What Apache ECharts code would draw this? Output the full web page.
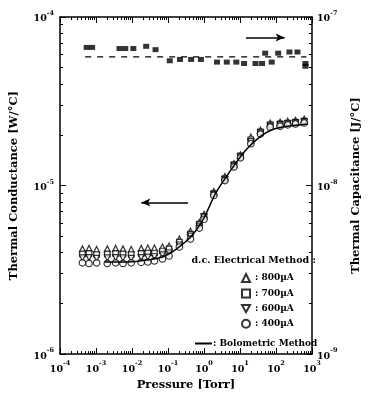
<!DOCTYPE html>
<html><head><meta charset="utf-8">
<script src="https://cdn.jsdelivr.net/npm/echarts@6/dist/echarts.min.js"></script>
<style>html,body{margin:0;padding:0;background:#fff}#c{width:370px;height:396px}</style>
</head><body><div id="c"></div>
<script>
// ---- data ----
const pressure = [4.2e-4, 6.4e-4, 1.04e-3, 2.06e-3, 3.5e-3, 5.6e-3, 9.5e-3, 0.018, 0.0275, 0.042, 0.070, 0.107, 0.207, 0.42, 0.74, 1.0, 1.87, 3.8, 6.8, 10.3, 20, 37, 69, 130, 212, 348, 607];
const g800 = [4.21e-6,4.24e-6,4.18e-6,4.21e-6,4.24e-6,4.21e-6,4.18e-6,4.24e-6,4.26e-6,4.26e-6,4.32e-6,4.38e-6,4.81e-6,5.36e-6,6.05e-6,6.75e-6,9.22e-6,1.13e-5,1.35e-5,1.52e-5,1.94e-5,2.13e-5,2.35e-5,2.38e-5,2.41e-5,2.44e-5,2.48e-5];
const g700 = [3.93e-6,3.96e-6,3.90e-6,3.93e-6,3.96e-6,3.93e-6,3.90e-6,3.96e-6,3.98e-6,3.98e-6,4.09e-6,4.21e-6,4.62e-6,5.15e-6,5.90e-6,6.57e-6,8.97e-6,1.10e-5,1.33e-5,1.50e-5,1.87e-5,2.08e-5,2.29e-5,2.32e-5,2.35e-5,2.38e-5,2.41e-5];
const g600 = [3.72e-6,3.74e-6,3.70e-6,3.72e-6,3.74e-6,3.72e-6,3.70e-6,3.74e-6,3.76e-6,3.78e-6,3.88e-6,3.98e-6,4.44e-6,5.01e-6,5.74e-6,6.49e-6,8.86e-6,1.08e-5,1.31e-5,1.48e-5,1.82e-5,2.05e-5,2.25e-5,2.29e-5,2.32e-5,2.35e-5,2.38e-5];
const g400 = [3.48e-6,3.45e-6,3.48e-6,3.45e-6,3.48e-6,3.45e-6,3.48e-6,3.50e-6,3.52e-6,3.57e-6,3.67e-6,3.82e-6,4.32e-6,4.81e-6,5.59e-6,6.31e-6,8.73e-6,1.07e-5,1.29e-5,1.46e-5,1.77e-5,2.02e-5,2.22e-5,2.25e-5,2.29e-5,2.32e-5,2.35e-5];

const boloP = [1.71e-3, 8.0e-3, 0.0275, 0.0695, 0.129, 0.239, 0.443, 0.82, 1.26, 2.07, 3.84, 7.12, 13.2, 24.5, 45.4, 84, 212, 776];
const boloG = [3.52e-6, 3.52e-6, 3.62e-6, 3.77e-6, 4.03e-6, 4.44e-6, 5.01e-6, 5.97e-6, 7.12e-6, 8.97e-6, 1.10e-5, 1.33e-5, 1.585e-5, 1.815e-5, 2.02e-5, 2.16e-5, 2.25e-5, 2.32e-5];

const capP = [5.5e-4, 7.8e-4, 4.5e-3, 6.5e-3, 0.0109, 0.0248, 0.045, 0.112, 0.215, 0.44, 0.82, 2.3, 4.3, 7.9, 13, 27, 41, 50, 76, 115, 236, 394, 658, 658];
const capC = [6.6e-8,6.6e-8,6.5e-8,6.5e-8,6.5e-8,6.7e-8,6.4e-8,5.5e-8,5.6e-8,5.6e-8,5.6e-8,5.4e-8,5.4e-8,5.4e-8,5.3e-8,5.3e-8,5.3e-8,6.1e-8,5.4e-8,6.1e-8,6.2e-8,6.2e-8,5.3e-8,5.1e-8];

const dashP = [5e-4, 700];
const dashC = [5.8e-8, 5.8e-8];

const arrowRightP = [14.7, 173];
const arrowRightC = 7.55e-8;
const arrowLeftP = [0.0182, 0.361];
const arrowLeftG = 7.94e-6;

const seriesNames = ['800\u00b5A', '700\u00b5A', '600\u00b5A', '400\u00b5A'];

// ---- styling ----
const FONT = 'DejaVu Serif';
const rich = {
  b: {fontFamily: FONT, fontWeight: 'bold', fontSize: 9.5, color: '#000', lineHeight: 14, verticalAlign: 'bottom'},
  s: {fontFamily: FONT, fontWeight: 'bold', fontSize: 6.5, color: '#000', lineHeight: 14, verticalAlign: 'top'}
};
const fmtPow = v => '{b|10}{s|' + Math.round(Math.log10(v)) + '}';

function minorVals(lo, hi) {
  const out = [];
  for (let d = lo; d < hi; d++) for (let k = 2; k <= 9; k++) out.push(d + Math.log10(k));
  return out;
}

const zip = (a, b) => a.map((v, i) => [v, b[i]]);

const axLine = {show: true, onZero: false, lineStyle: {color: '#000', width: 1.5}};
const noLine = {show: false, onZero: false};
const nameStyle = {fontFamily: FONT, fontWeight: 'bold', fontSize: 11.5, color: '#000'};
const minorTick = vals => ({inside: true, length: 3, customValues: vals, lineStyle: {color: '#000'}});

const option = {
  backgroundColor: '#fff',
  animation: false,
  grid: {left: 59, right: 51, top: 17, bottom: 39, containLabel: false},
  title: {
    text: 'd.c. Electrical Method :', right: 49, top: 251,
    textStyle: {fontFamily: FONT, fontWeight: 'bold', fontSize: 9.5, color: '#000'}
  },
  legend: [
    {
      orient: 'vertical', left: 236, top: 268, itemWidth: 8, itemHeight: 8, itemGap: 5.5,
      data: seriesNames, formatter: n => ': ' + n, selectedMode: false,
      textStyle: {fontFamily: FONT, fontWeight: 'bold', fontSize: 9, color: '#000'}
    },
    {
      orient: 'vertical', left: 190, top: 334, itemWidth: 17, itemHeight: 2,
      data: [{name: 'Bolometric Method', icon: 'rect'}], formatter: n => ': ' + n, selectedMode: false,
      textStyle: {fontFamily: FONT, fontWeight: 'bold', fontSize: 9, color: '#000', padding: [0, 0, 0, -4]}
    }
  ],
  xAxis: [
    {type: 'log', logBase: 10, min: 1e-4, max: 1e3, splitNumber: 7, position: 'bottom',
     axisLine: axLine, axisTick: {inside: true, length: 6, lineStyle: {color: '#000', width: 1}},
     splitLine: {show: false},
     axisLabel: {formatter: fmtPow, rich: rich, margin: 6},
     name: 'Pressure [Torr]', nameLocation: 'middle', nameGap: 22, nameTextStyle: nameStyle},
    {type: 'log', logBase: 10, min: 1e-4, max: 1e3, splitNumber: 7, position: 'top',
     axisLine: axLine, axisTick: {inside: true, length: 6, lineStyle: {color: '#000', width: 1}},
     splitLine: {show: false}, axisLabel: {show: false}},
    {type: 'value', min: -4, max: 3, position: 'bottom', axisLine: noLine,
     axisTick: minorTick(minorVals(-4, 3)), axisLabel: {show: false}, splitLine: {show: false}},
    {type: 'value', min: -4, max: 3, position: 'top', axisLine: noLine,
     axisTick: minorTick(minorVals(-4, 3)), axisLabel: {show: false}, splitLine: {show: false}}
  ],
  yAxis: [
    {type: 'log', logBase: 10, min: 1e-6, max: 1e-4, splitNumber: 2, position: 'left',
     axisLine: axLine, axisTick: {inside: true, length: 6, lineStyle: {color: '#000'}},
     splitLine: {show: false}, axisLabel: {formatter: fmtPow, rich: rich, margin: 6},
     name: 'Thermal Conductance [W/\u00b0C]', nameLocation: 'middle', nameRotate: 90, nameGap: 40, nameTextStyle: nameStyle},
    {type: 'log', logBase: 10, min: 1e-9, max: 1e-7, splitNumber: 2, position: 'right',
     axisLine: axLine, axisTick: {inside: true, length: 6, lineStyle: {color: '#000'}},
     splitLine: {show: false}, axisLabel: {formatter: fmtPow, rich: rich, margin: 5},
     name: 'Thermal Capacitance [J/\u00b0C]', nameLocation: 'middle', nameRotate: 90, nameGap: 38, nameTextStyle: nameStyle},
    {type: 'value', min: -6, max: -4, position: 'left', axisLine: noLine,
     axisTick: minorTick(minorVals(-6, -4)), axisLabel: {show: false}, splitLine: {show: false}},
    {type: 'value', min: -9, max: -7, position: 'right', axisLine: noLine,
     axisTick: minorTick(minorVals(-9, -7)), axisLabel: {show: false}, splitLine: {show: false}}
  ],
  series: [
    {name: 'Capacitance', type: 'scatter', xAxisIndex: 0, yAxisIndex: 1,
     data: zip(capP, capC), symbol: 'rect', symbolSize: [6, 5],
     itemStyle: {color: '#000'},
     markLine: {silent: true, symbolSize: [6, 9], label: {show: false},
       lineStyle: {color: '#000', width: 1.5, type: 'solid'},
       data: [[{coord: [arrowRightP[0], arrowRightC], symbol: 'none'}, {coord: [arrowRightP[1], arrowRightC], symbol: 'arrow'}]]}},
    {name: 'Capacitance fit', type: 'line', xAxisIndex: 0, yAxisIndex: 1,
     data: zip(dashP, dashC), symbol: 'none',
     lineStyle: {color: '#000', width: 1.3, type: [6, 6]}},
    {name: seriesNames[0], type: 'scatter', xAxisIndex: 0, yAxisIndex: 0,
     data: zip(pressure, g800), symbol: 'triangle', symbolSize: 6,
     itemStyle: {color: '#fff', borderColor: '#000', borderWidth: 1.2}},
    {name: seriesNames[1], type: 'scatter', xAxisIndex: 0, yAxisIndex: 0,
     data: zip(pressure, g700), symbol: 'rect', symbolSize: 5.5,
     itemStyle: {color: '#fff', borderColor: '#000', borderWidth: 1.2}},
    {name: seriesNames[2], type: 'scatter', xAxisIndex: 0, yAxisIndex: 0,
     data: zip(pressure, g600), symbol: 'path://M0,0 L10,0 L5,9 Z', symbolSize: 6,
     itemStyle: {color: '#fff', borderColor: '#000', borderWidth: 1.2}},
    {name: seriesNames[3], type: 'scatter', xAxisIndex: 0, yAxisIndex: 0,
     data: zip(pressure, g400), symbol: 'circle', symbolSize: 6.5,
     itemStyle: {color: '#fff', borderColor: '#000', borderWidth: 1.2}},
    {name: 'Bolometric Method', type: 'line', xAxisIndex: 0, yAxisIndex: 0,
     data: zip(boloP, boloG), symbol: 'none', smooth: 0.3,
     lineStyle: {color: '#000', width: 1.5}, itemStyle: {color: '#000'},
     markLine: {silent: true, symbolSize: [6, 9], label: {show: false},
       lineStyle: {color: '#000', width: 1.5, type: 'solid'},
       data: [[{coord: [arrowLeftP[0], arrowLeftG], symbol: 'arrow'}, {coord: [arrowLeftP[1], arrowLeftG], symbol: 'none'}]]}}
  ]
};

const chart = echarts.init(document.getElementById('c'), null, {renderer: 'canvas'});
chart.setOption(option);
</script>
</body></html>
